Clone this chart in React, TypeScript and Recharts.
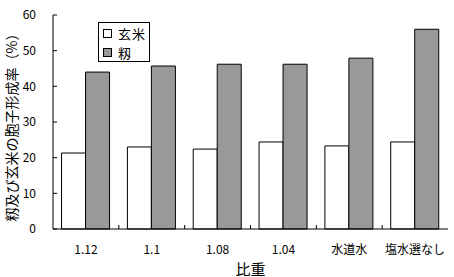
import React from 'react';
import { BarChart, Bar, XAxis, YAxis, Legend } from 'recharts';

const categories = ['1.12', '1.1', '1.08', '1.04', '水道水', '塩水選なし'];
const genmai = [21.3, 23.0, 22.4, 24.4, 23.3, 24.4];
const momi = [44.0, 45.7, 46.2, 46.2, 47.9, 56.0];
const yTicks = [0, 10, 20, 30, 40, 50, 60];
const seriesNames = ['玄米', '籾'];
const yLabel = '籾及び玄米の胞子形成率（%）';
const xLabel = '比重';

const data = categories.map((c, i) => ({ name: c, genmai: genmai[i], momi: momi[i] }));
const FONT = '"Noto Sans CJK JP", "Noto Sans", sans-serif';

function CatTick(props: any) {
  const { x, y, payload, index } = props;
  const off = payload?.offset ?? 0;
  return (
    <g>
      {index > 0 && <line x1={x - off} x2={x - off} y1={y} y2={y - 4} stroke="#000" strokeWidth={1} />}
      <text x={x} y={y + 19} textAnchor="middle" dominantBaseline="central" fontSize={12} fontFamily={FONT} fill="#000">
        {payload.value}
      </text>
    </g>
  );
}

function LegendBox(props: any) {
  const payload = props.payload || [];
  return (
    <div
      style={{
        width: 52,
        height: 40,
        boxSizing: 'border-box',
        border: '1px solid #000',
        background: '#fff',
        paddingTop: 1,
        fontFamily: FONT,
        fontSize: 13,
        lineHeight: '19px',
        color: '#000',
        overflow: 'hidden',
      }}
    >
      {payload.map((p: any, i: number) => (
        <div key={i} style={{ display: 'flex', alignItems: 'center', height: 19 }}>
          <span
            style={{
              display: 'inline-block',
              width: 9,
              height: 9,
              boxSizing: 'border-box',
              border: '1px solid #000',
              background: p.payload?.fill ?? p.color,
              marginLeft: 4,
              flex: '0 0 auto',
            }}
          />
          <span style={{ marginLeft: 6, lineHeight: '19px', whiteSpace: 'nowrap', letterSpacing: 1 }}>{p.value}</span>
        </div>
      ))}
    </div>
  );
}

export default function App() {
  return (
    <div style={{ position: 'absolute', left: 0, top: 0 }}>
      <BarChart
        width={454}
        height={277}
        data={data}
        margin={{ top: 15, right: 6, bottom: 18, left: 8 }}
        barCategoryGap="13%"
        barGap={0}
        style={{ fontFamily: FONT, background: '#fff' }}
      >
        <XAxis
          dataKey="name"
          axisLine={{ stroke: '#000', strokeWidth: 1 }}
          tickLine={false}
          tickSize={0}
          tickMargin={0}
          tick={<CatTick />}
          height={30}
          interval={0}
          label={{
            content: (p: any) => (
              <text
                x={p.viewBox.x + p.viewBox.width / 2}
                y={p.viewBox.y + 39}
                textAnchor="middle"
                dominantBaseline="central"
                fontSize={15}
                fontFamily={FONT}
                fill="#000"
              >
                {xLabel}
              </text>
            ),
          }}
        />
        <XAxis
          xAxisId="top"
          dataKey="name"
          orientation="top"
          height={0}
          tick={false}
          tickLine={false}
          axisLine={{ stroke: '#000', strokeWidth: 1 }}
        />
        <YAxis
          domain={[0, 60]}
          ticks={yTicks}
          width={45}
          tickSize={-4}
          tickMargin={21}
          axisLine={{ stroke: '#000', strokeWidth: 1 }}
          tickLine={{ stroke: '#000', strokeWidth: 1 }}
          tick={{ fontSize: 12, fill: '#000', fontFamily: FONT }}
          interval={0}
          label={{
            content: (p: any) => {
              const cx = p.viewBox.x + 3;
              const cy = p.viewBox.y + p.viewBox.height / 2 + 2;
              return (
                <text
                  x={cx}
                  y={cy}
                  transform={`rotate(-90 ${cx} ${cy})`}
                  textAnchor="middle"
                  dominantBaseline="central"
                  fontSize={14}
                  fontFamily={FONT}
                  fill="#000"
                >
                  {yLabel}
                </text>
              );
            },
          }}
        />
        <YAxis
          yAxisId="right"
          orientation="right"
          width={0}
          domain={[0, 60]}
          tick={false}
          tickLine={false}
          axisLine={{ stroke: '#000', strokeWidth: 1 }}
        />
        <Legend
          layout="vertical"
          align="center"
          verticalAlign="middle"
          content={<LegendBox />}
          wrapperStyle={{ position: 'absolute', left: 98, top: 22, width: 52, height: 40 }}
        />
        <Bar dataKey="genmai" name={seriesNames[0]} fill="#ffffff" stroke="#000" strokeWidth={1} isAnimationActive={false} />
        <Bar dataKey="momi" name={seriesNames[1]} fill="#999999" stroke="#000" strokeWidth={1} isAnimationActive={false} />
      </BarChart>
    </div>
  );
}
